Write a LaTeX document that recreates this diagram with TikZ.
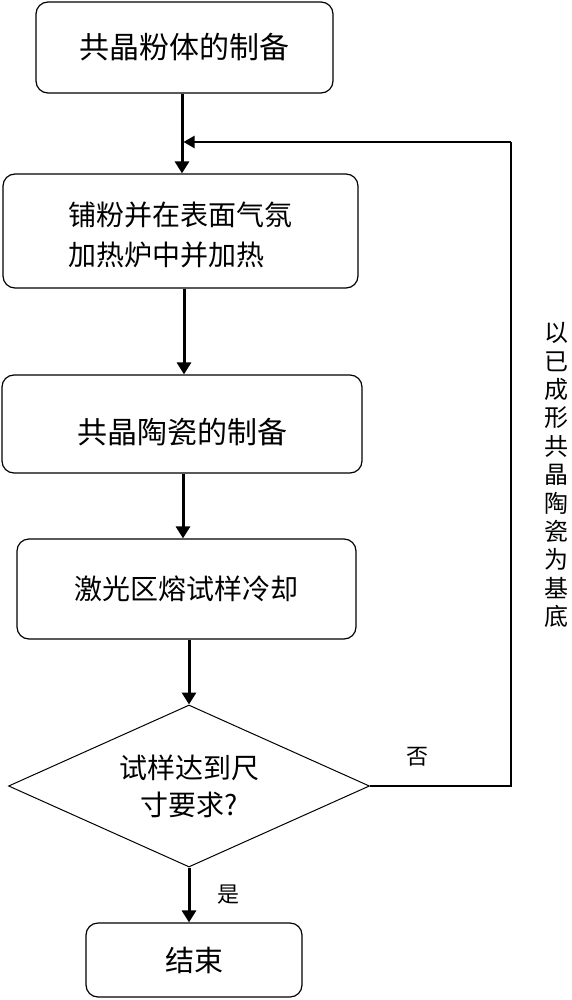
\documentclass[tikz,border=0pt]{standalone}
\usepackage{fontspec}
\setmainfont{Noto Sans CJK SC}
\usetikzlibrary{arrows.meta,shapes.geometric}
\begin{document}
\begin{tikzpicture}[x=1pt,y=-1pt,
  box/.style={draw, line width=1.2pt, rounded corners=12pt, inner sep=0pt, align=center},
  arr/.style={line width=3pt, -{Triangle[width=14pt,length=12pt]}},
  fbline/.style={line width=1.4pt},
  lab/.style={inner sep=0pt, font=\fontsize{22}{26}\selectfont}]
\useasboundingbox (0,0) rectangle (571,1000);
% boxes
\node[box, minimum width=297pt, minimum height=91pt, font=\fontsize{30}{36}\selectfont] (b1) at (184.5,47.5) {共晶粉体的制备};
\node[box, minimum width=355pt, minimum height=114pt, font=\fontsize{28}{40}\selectfont] (b2) at (180.5,231) {\raisebox{-6pt}[\height][\depth]{\begin{tabular}{@{}l@{}}铺粉并在表面气氛\\加热炉中并加热\end{tabular}}};
\node[box, minimum width=360pt, minimum height=98pt, font=\fontsize{30}{36}\selectfont] (b3) at (182,424) {\raisebox{-8pt}[\height][\depth]{共晶陶瓷的制备}};
\node[box, minimum width=339pt, minimum height=100pt, font=\fontsize{28}{34}\selectfont] (b4) at (186.5,589) {激光区熔试样冷却};
\node[draw, diamond, aspect=2.23, minimum width=361pt, minimum height=162pt, inner sep=0pt, line width=1pt, align=center, font=\fontsize{28}{37}\selectfont] (dia) at (189,786) {试样达到尺\\寸要求?};
\node[box, minimum width=216pt, minimum height=74pt, font=\fontsize{29}{34}\selectfont] (fin) at (194,960) {结束};
% labels
\node[lab] (no) at (417,757) {否};
\node[lab] (yes) at (228,895) {是};
\node[inner sep=0pt, align=center, font=\fontsize{24}{28.4}\selectfont] (side) at (556,475) {以\\已\\成\\形\\共\\晶\\陶\\瓷\\为\\基\\底};
% columns for connectors
\coordinate (c1) at (182,0);
\coordinate (c2) at (184,0);
\coordinate (c3) at (183,0);
\coordinate (fbc) at (511,142);
\coordinate (join) at (183.5,142);
% connectors
\draw[arr] (b1.south -| c1) -- (b2.north -| c1);
\draw[arr] (b2.south -| c2) -- (b3.north -| c2);
\draw[arr] (b3.south -| c3) -- (b4.north -| c3);
\draw[arr] (b4.south -| dia.north) -- (dia.north);
\draw[arr] (dia.south) -- (fin.north -| dia.south);
% feedback loop
\draw[fbline] (dia.east) -- (dia.east -| fbc) -- (fbc);
\draw[line width=2.2pt, -{Triangle[width=12pt,length=11pt]}] (fbc) -- (join);
\end{tikzpicture}
\end{document}
